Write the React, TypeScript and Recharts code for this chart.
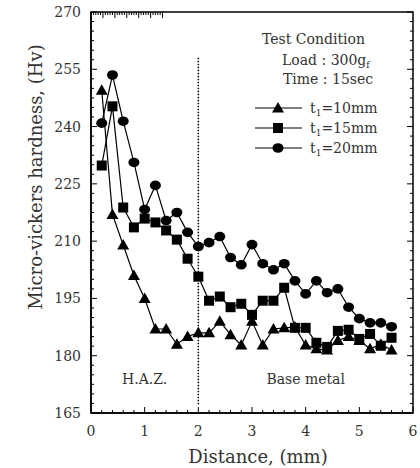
import { ComposedChart, Line, XAxis, YAxis, ReferenceLine, ReferenceDot, ReferenceArea, Legend } from "recharts";

// distance from the fusion line (mm)
const DISTANCE = [0.2, 0.4, 0.6, 0.8, 1.0, 1.2, 1.4, 1.6, 1.8, 2.0, 2.2, 2.4, 2.6, 2.8, 3.0, 3.2, 3.4, 3.6, 3.8, 4.0, 4.2, 4.4, 4.6, 4.8, 5.0, 5.2, 5.4, 5.6];

// micro-vickers hardness (Hv)
const HV_T10 = [249.5, 217, 209, 201, 195, 187, 187, 183, 185, 186, 186, 189, 185.5, 182.8, 189, 182.8, 187, 187.3, 187.5, 182.8, 181.8, 181.5, 184, 185, 184, 181.8, 183, 181.5];
const HV_T15 = [229.8, 245.3, 218.8, 213.6, 215.9, 214.9, 212.8, 210.4, 205.4, 200.7, 194.4, 195.5, 192.7, 193.6, 190.7, 194.4, 194.4, 197.8, 187.3, 187.3, 183.4, 182.3, 186.5, 186.8, 184.4, 185.7, 182.6, 184.7];
const HV_T20 = [240.9, 253.5, 241.4, 230.6, 218.3, 224.6, 215.4, 217.5, 212.3, 208.6, 209.6, 211.2, 205.7, 203.8, 209.1, 204.1, 202.5, 204.1, 199.6, 196.2, 199.6, 196.5, 197.5, 192.7, 189.7, 188.6, 188.6, 187.6];

const X_TICKS = [0, 1, 2, 3, 4, 5, 6];
const Y_TICKS = [165, 180, 195, 210, 225, 240, 255, 270];
const X_MINOR = 0.2;
const Y_MINOR = 2.5;

const HAZ_BOUNDARY = 2;
const FONT = "'DejaVu Serif', serif";

const data = DISTANCE.map((d, i) => ({ d, t10: HV_T10[i], t15: HV_T15[i], t20: HV_T20[i] }));

const minor = (lo: number, hi: number, step: number) => {
    const out: number[] = [];
    for (let v = lo; v <= hi + 1e-9; v += step) out.push(Math.round(v * 100) / 100);
    return out;
};
const xAll = minor(0, 6, X_MINOR);
const yAll = minor(165, 270, Y_MINOR);

const isMajor = (v: number, majors: number[]) => majors.some(m => Math.abs(m - v) < 1e-6);

const makeTick = (side: string, majors: number[]) => (props: any) => {
    const { x, y, payload } = props;
    const v = payload.value;
    const major = isMajor(v, majors);
    const len = major ? 6 : 3;
    let line;
    let label = null;
    if (side === "bottom") {
        line = <line x1={x} y1={y} x2={x} y2={y - len} stroke="#000" strokeWidth={1} />;
        if (major) label = <text x={x} y={y + 23} textAnchor="middle" fontSize={14} fontFamily={FONT} fill="#333">{v}</text>;
    } else if (side === "top") {
        line = <line x1={x} y1={y} x2={x} y2={y + len} stroke="#000" strokeWidth={1} />;
    } else if (side === "left") {
        line = <line x1={x} y1={y} x2={x + len} y2={y} stroke="#000" strokeWidth={1} />;
        if (major) label = <text x={x - 10} y={y + 5} textAnchor="end" fontSize={14} fontFamily={FONT} fill="#333">{v}</text>;
    } else {
        line = <line x1={x} y1={y} x2={x - len} y2={y} stroke="#000" strokeWidth={1} />;
    }
    return <g>{line}{label}</g>;
};

const Triangle = (props: any) => {
    const { cx, cy, index } = props;
    if (cx == null || cy == null) return <g key={index} />;
    return <polygon key={index} points={`${cx},${cy - 6} ${cx - 6},${cy + 4.5} ${cx + 6},${cy + 4.5}`} fill="#000" />;
};
const Square = (props: any) => {
    const { cx, cy, index } = props;
    if (cx == null || cy == null) return <g key={index} />;
    return <rect key={index} x={cx - 5} y={cy - 5} width={10} height={10} fill="#000" />;
};
const Dot = (props: any) => {
    const { cx, cy, index } = props;
    if (cx == null || cy == null) return <g key={index} />;
    return <ellipse key={index} cx={cx} cy={cy} rx={5.5} ry={4.8} fill="#000" />;
};

const LegendBox = () => {
    const rows = [
        { t: "10mm", m: (cx: number, cy: number) => <polygon points={`${cx},${cy - 6} ${cx - 6},${cy + 4.5} ${cx + 6},${cy + 4.5}`} fill="#000" /> },
        { t: "15mm", m: (cx: number, cy: number) => <rect x={cx - 5} y={cy - 5} width={10} height={10} fill="#000" /> },
        { t: "20mm", m: (cx: number, cy: number) => <ellipse cx={cx} cy={cy} rx={5.5} ry={4.8} fill="#000" /> },
    ];
    return (
        <svg width={160} height={140} style={{ fontFamily: FONT, display: "block" }}>
            <text x={12} y={19} fontSize={14} fill="#333">Test Condition</text>
            <text x={32} y={40} fontSize={14} fill="#333">Load : 300g<tspan fontSize={9} dy={3}>f</tspan></text>
            <text x={33} y={59} fontSize={14} fill="#333">Time : 15sec</text>
            {rows.map((r, i) => {
                const cy = 83 + i * 20;
                return (
                    <g key={r.t}>
                        <line x1={5} y1={cy} x2={52} y2={cy} stroke="#000" strokeWidth={1.2} />
                        {r.m(28, cy)}
                        <text x={60} y={cy + 5} fontSize={14} fill="#333">t<tspan fontSize={9} dy={3}>1</tspan><tspan dy={-3}>=</tspan>{r.t}</text>
                    </g>
                );
            })}
        </svg>
    );
};

const AreaText = (text: string) => (props: any) => (
    <text x={props.cx} y={props.cy + 5} textAnchor="middle" fontSize={14} fontFamily={FONT} fill="#333">{text}</text>
);

export default function App() {
    return (
        <div style={{ position: "absolute", left: 0, top: 0, width: 420, height: 468, background: "#fff" }}>
            <ComposedChart width={420} height={468} data={data} margin={{ top: 11, right: 6, bottom: 0, left: 0 }}>
                <XAxis
                    dataKey="d"
                    type="number"
                    domain={[0, 6]}
                    ticks={xAll}
                    interval={0}
                    height={55}
                    tickSize={0}
                    tickMargin={0}
                    tickLine={false}
                    axisLine={{ stroke: "#000", strokeWidth: 1.5 }}
                    tick={makeTick("bottom", X_TICKS)}
                    label={{
                        content: (p: any) => (
                            <text x={p.viewBox.x + p.viewBox.width / 2 + 6} y={p.viewBox.y + 50} textAnchor="middle" fontSize={18} fontFamily={FONT} fill="#333">Distance, (mm)</text>
                        ),
                    }}
                />
                <XAxis
                    xAxisId="top"
                    orientation="top"
                    type="number"
                    domain={[0, 6]}
                    allowDataOverflow
                    ticks={xAll}
                    interval={0}
                    height={1}
                    tickSize={0}
                    tickMargin={0}
                    tickLine={false}
                    axisLine={false}
                    tick={makeTick("top", X_TICKS)}
                />
                <YAxis
                    type="number"
                    domain={[165, 270]}
                    ticks={yAll}
                    interval={0}
                    width={91}
                    tickSize={0}
                    tickMargin={0}
                    tickLine={false}
                    axisLine={{ stroke: "#000", strokeWidth: 1.5 }}
                    tick={makeTick("left", Y_TICKS)}
                    label={{
                        content: (p: any) => {
                            const cx = 35;
                            const cy = p.viewBox.y + 165;
                            return (
                                <text x={cx} y={cy} transform={`rotate(-90, ${cx}, ${cy})`} textAnchor="middle" dominantBaseline="central" fontSize={18} fontFamily={FONT} fill="#333">Micro-vickers hardness, (Hv)</text>
                            );
                        },
                    }}
                />
                <YAxis
                    yAxisId="right"
                    orientation="right"
                    type="number"
                    domain={[165, 270]}
                    allowDataOverflow
                    ticks={yAll}
                    interval={0}
                    width={1}
                    tickSize={0}
                    tickMargin={0}
                    tickLine={false}
                    axisLine={false}
                    tick={makeTick("right", Y_TICKS)}
                />
                <ReferenceArea x1={0} x2={6} y1={165} y2={270} fill="none" stroke="#000" strokeWidth={1.5} fillOpacity={0} />
                <ReferenceLine
                    segment={[{ x: HAZ_BOUNDARY, y: 258 }, { x: HAZ_BOUNDARY, y: 167 }]}
                    stroke="#000"
                    strokeWidth={1.5}
                    strokeDasharray="1.5 1.5"
                />
                <ReferenceDot x={1.0} y={174} r={0} shape={AreaText("H.A.Z.")} />
                <ReferenceDot x={4.0} y={174} r={0} shape={AreaText("Base metal")} />
                <Line dataKey="t10" stroke="#000" strokeWidth={1.2} dot={Triangle} activeDot={false} isAnimationActive={false} />
                <Line dataKey="t15" stroke="#000" strokeWidth={1.2} dot={Square} activeDot={false} isAnimationActive={false} />
                <Line dataKey="t20" stroke="#000" strokeWidth={1.2} dot={Dot} activeDot={false} isAnimationActive={false} />
                <Legend
                    layout="vertical"
                    align="center"
                    verticalAlign="middle"
                    content={() => <LegendBox />}
                    wrapperStyle={{ left: 250, top: 25, width: 160 }}
                />
            </ComposedChart>
        </div>
    );
}
